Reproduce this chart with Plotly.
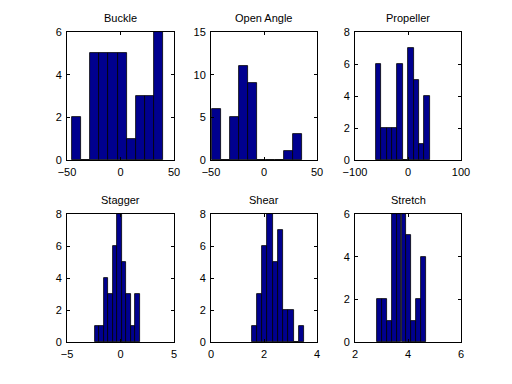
import plotly.graph_objects as go

titles = ["Buckle", "Open Angle", "Propeller", "Stagger", "Shear", "Stretch"]

buckle_centers = [-41.05, -32.55, -24.05, -15.55, -7.05, 1.45, 9.95, 18.45, 26.95, 35.45]
buckle_counts = [2, 0, 5, 5, 5, 5, 1, 3, 3, 6]

open_centers = [-44.8, -36.3, -27.9, -19.4, -11.0, -2.5, 5.9, 14.4, 22.8, 31.3]
open_counts = [6, 0, 5, 11, 9, 0, 0, 0, 1, 3]

prop_centers = [-55.3, -45.2, -35.1, -25.0, -14.8, -4.7, 5.4, 15.6, 25.7, 35.8]
prop_counts = [6, 2, 2, 2, 6, 0, 7, 5, 1, 4]

stag_centers = [-2.20, -1.78, -1.36, -0.93, -0.51, -0.09, 0.33, 0.76, 1.18, 1.60]
stag_counts = [1, 1, 4, 3, 6, 8, 5, 3, 1, 3]

shear_centers = [1.63, 1.83, 2.03, 2.23, 2.42, 2.62, 2.82, 3.02, 3.22, 3.41]
shear_counts = [1, 3, 6, 8, 5, 7, 2, 2, 0, 1]

stretch_centers = [2.93, 3.12, 3.30, 3.48, 3.66, 3.85, 4.03, 4.21, 4.40, 4.58]
stretch_counts = [2, 2, 1, 6, 6, 6, 5, 1, 2, 4]

centers = [buckle_centers, open_centers, prop_centers, stag_centers, shear_centers, stretch_centers]
counts = [buckle_counts, open_counts, prop_counts, stag_counts, shear_counts, stretch_counts]

x_ranges = [[-50, 50], [-50, 50], [-100, 100], [-5, 5], [0, 4], [2, 6]]
x_ticks = [[-50, 0, 50], [-50, 0, 50], [-100, 0, 100], [-5, 0, 5], [0, 2, 4], [2, 4, 6]]
y_ranges = [[0, 6], [0, 15], [0, 8], [0, 8], [0, 8], [0, 6]]
y_ticks = [[0, 2, 4, 6], [0, 5, 10, 15], [0, 2, 4, 6, 8], [0, 2, 4, 6, 8], [0, 2, 4, 6, 8], [0, 2, 4, 6]]

W, H = 512, 384
OFF = 8  # page body margin
col_px = [(67 - OFF, 174 - OFF), (211 - OFF, 317 - OFF), (355 - OFF, 461 - OFF)]
row_px = [(32 - OFF, 160 - OFF), (214 - OFF, 342 - OFF)]

fig = go.Figure()
font = dict(family="Liberation Sans, Arial, sans-serif", size=11, color="black")
layout = dict(width=W, height=H, margin=dict(l=0, r=0, t=0, b=0, autoexpand=False),
              template="none",
              plot_bgcolor="white", paper_bgcolor="white", showlegend=False,
              font=font, bargap=0)
annotations = []
for i in range(6):
    r, c = divmod(i, 3)
    xd = [col_px[c][0] / W, col_px[c][1] / W]
    yd = [1 - row_px[r][1] / H, 1 - row_px[r][0] / H]
    n = "" if i == 0 else str(i + 1)
    cs = centers[i]
    width = (cs[-1] - cs[0]) / (len(cs) - 1)
    fig.add_trace(go.Bar(x=cs, y=counts[i], width=[width] * len(cs),
                         marker=dict(color="#00008F", line=dict(color="black", width=0.8)),
                         xaxis="x" + n, yaxis="y" + n, hoverinfo="x+y"))
    common = dict(showgrid=False, zeroline=False, showline=True, linecolor="black",
                  linewidth=1, mirror="allticks", ticks="inside", ticklen=3,
                  tickcolor="black", tickfont=font, automargin=False)
    layout["xaxis" + n] = dict(domain=xd, range=x_ranges[i], tickvals=x_ticks[i],
                               anchor="y" + n, ticklabelstandoff=2, **common)
    layout["yaxis" + n] = dict(domain=yd, range=y_ranges[i], tickvals=y_ticks[i],
                               anchor="x" + n, ticklabelstandoff=2, **common)
    annotations.append(dict(text=titles[i], x=(xd[0] + xd[1]) / 2, y=yd[1],
                            xref="paper", yref="paper", xanchor="center",
                            yanchor="bottom", yshift=6, showarrow=False,
                            font=dict(family=font["family"], size=11, color="black")))
layout["annotations"] = annotations
fig.update_layout(**layout)
fig.write_html("out.html")
